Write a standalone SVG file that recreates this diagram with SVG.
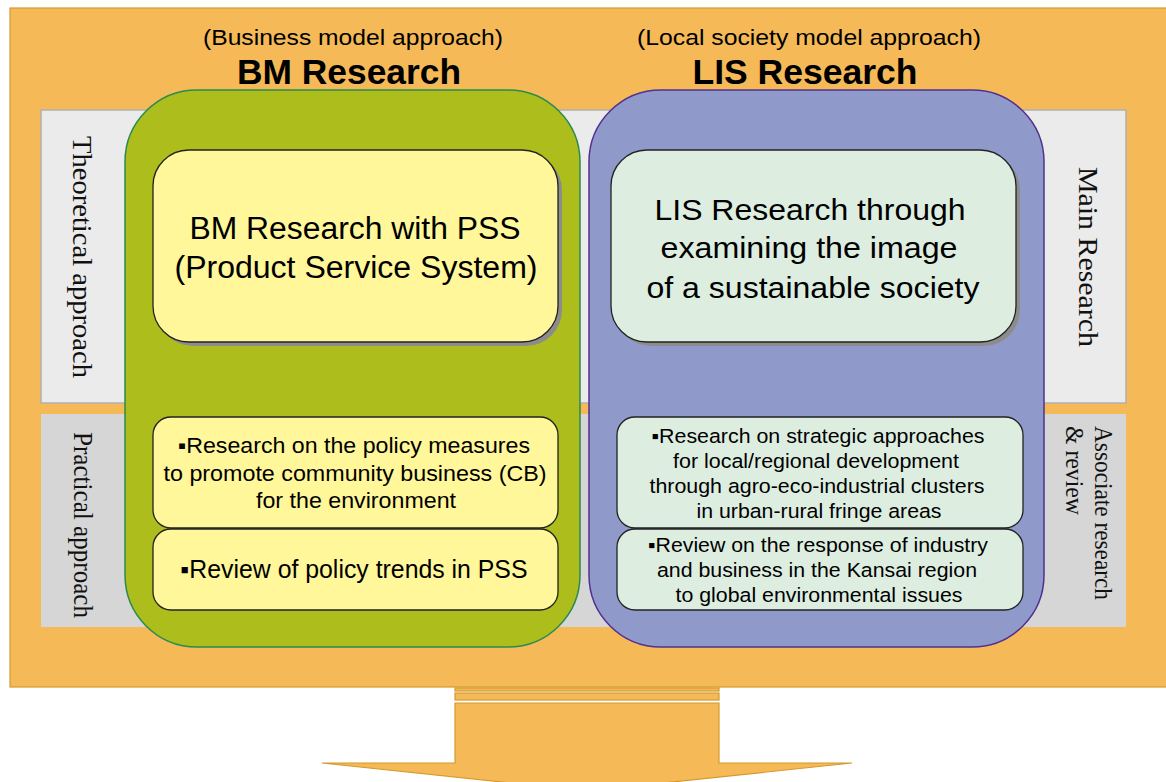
<svg xmlns="http://www.w3.org/2000/svg" width="1166" height="782" viewBox="0 0 1166 782">
<style>
.sans{font-family:"Liberation Sans",Arial,sans-serif;fill:#000;text-anchor:middle}
.serif{font-family:"Liberation Serif","Times New Roman",serif;fill:#111}
.orange{fill:#F5BA57;stroke:#D49A2C;stroke-width:1.2}
.yel{fill:#FFF799;stroke:#222;stroke-width:1.3}
.lgr{fill:#DDEEE0;stroke:#222;stroke-width:1.3}
.shadow{fill:#8C8C8C}
</style>
<rect width="1166" height="782" fill="#fff"/>
<g id="background">
<rect class="orange" x="10" y="8" width="1170" height="679"/>
<rect x="41" y="110" width="1085" height="293" fill="#EBEBEB" stroke="#B0B0B0" stroke-width="1.5"/>
<rect x="41" y="414" width="1085" height="213" fill="#D6D6D6"/>
<text class="serif" font-size="27" transform="translate(73,136) rotate(90)" textLength="242" lengthAdjust="spacingAndGlyphs">Theoretical approach</text>
<text class="serif" font-size="27" transform="translate(74,432) rotate(90)" textLength="186" lengthAdjust="spacingAndGlyphs">Practical approach</text>
<text class="serif" font-size="27" transform="translate(1079,167) rotate(90)" textLength="180" lengthAdjust="spacingAndGlyphs">Main  Research</text>
<text class="serif" font-size="25" transform="translate(1095,426) rotate(90)" textLength="174" lengthAdjust="spacingAndGlyphs">Associate research</text>
<text class="serif" font-size="25" transform="translate(1066,426) rotate(90)" textLength="89" lengthAdjust="spacingAndGlyphs">&amp; review</text>
</g>
<g id="bm-research">
<text class="sans" x="353" y="45" font-size="22" textLength="300" lengthAdjust="spacingAndGlyphs">(Business model approach)</text>
<text class="sans" x="349" y="84" font-size="35" font-weight="bold" textLength="224" lengthAdjust="spacingAndGlyphs">BM Research</text>
<rect x="125" y="90" width="455" height="557" rx="72" fill="#ADBD1B" stroke="#2A8A50" stroke-width="1.5"/>
</g>
<g id="lis-research">
<text class="sans" x="809" y="45" font-size="22" textLength="344" lengthAdjust="spacingAndGlyphs">(Local society model approach)</text>
<text class="sans" x="805" y="84" font-size="35" font-weight="bold" textLength="225" lengthAdjust="spacingAndGlyphs">LIS Research</text>
<rect x="589" y="90" width="455" height="557" rx="72" fill="#8F9ACB" stroke="#52308F" stroke-width="1.5"/>
</g>
<g id="bm-pss">
<rect class="shadow" x="157" y="154" width="405" height="192" rx="36"/>
<rect class="yel" x="153" y="150" width="405" height="192" rx="36"/>
<text class="sans" x="355" y="239" font-size="31" textLength="331" lengthAdjust="spacingAndGlyphs">BM Research with PSS</text>
<text class="sans" x="356" y="278" font-size="31" textLength="363" lengthAdjust="spacingAndGlyphs">(Product Service System)</text>
</g>
<g id="lis-sustainable">
<rect class="shadow" x="615" y="154" width="405" height="192" rx="36"/>
<rect class="lgr" x="611" y="150" width="405" height="192" rx="36"/>
<text class="sans" x="810" y="220" font-size="30" textLength="311" lengthAdjust="spacingAndGlyphs">LIS Research through</text>
<text class="sans" x="809" y="258" font-size="30" textLength="297" lengthAdjust="spacingAndGlyphs">examining the image</text>
<text class="sans" x="813" y="298" font-size="30" textLength="333" lengthAdjust="spacingAndGlyphs">of a sustainable society</text>
</g>
<g id="bm-cb">
<rect class="yel" x="153" y="417" width="405" height="111" rx="18"/>
<text class="sans" x="354" y="453" font-size="22" textLength="352" lengthAdjust="spacingAndGlyphs">▪Research on the policy measures</text>
<text class="sans" x="355" y="481" font-size="22" textLength="383" lengthAdjust="spacingAndGlyphs">to promote community business (CB)</text>
<text class="sans" x="356" y="508" font-size="22" textLength="200" lengthAdjust="spacingAndGlyphs">for the environment</text>
</g>
<g id="bm-review">
<rect class="yel" x="153" y="529" width="405" height="81" rx="18"/>
<text class="sans" x="354" y="578" font-size="25" textLength="347" lengthAdjust="spacingAndGlyphs">▪Review of policy trends in PSS</text>
</g>
<g id="lis-strategic">
<rect class="lgr" x="617" y="417" width="406" height="111" rx="18"/>
<text class="sans" x="818" y="443" font-size="20.5" textLength="333" lengthAdjust="spacingAndGlyphs">▪Research on strategic approaches</text>
<text class="sans" x="816" y="468" font-size="20.5" textLength="286" lengthAdjust="spacingAndGlyphs">for local/regional development</text>
<text class="sans" x="817" y="493" font-size="20.5" textLength="335" lengthAdjust="spacingAndGlyphs">through agro-eco-industrial clusters</text>
<text class="sans" x="819" y="518" font-size="20.5" textLength="245" lengthAdjust="spacingAndGlyphs">in urban-rural fringe areas</text>
</g>
<g id="lis-kansai">
<rect class="lgr" x="617" y="529" width="406" height="81" rx="18"/>
<text class="sans" x="818" y="552" font-size="20.5" textLength="340" lengthAdjust="spacingAndGlyphs">▪Review on the response of industry</text>
<text class="sans" x="817" y="577" font-size="20.5" textLength="320" lengthAdjust="spacingAndGlyphs">and business in the Kansai region</text>
<text class="sans" x="819" y="602" font-size="20.5" textLength="287" lengthAdjust="spacingAndGlyphs">to global environmental issues</text>
</g>
<g id="connectors">
<rect class="orange" x="455" y="688" width="264" height="3"/>
<rect class="orange" x="455" y="693" width="264" height="7"/>
<path class="orange" d="M455,703 H719 V763 H852 L587,791 L322,763 H455 Z"/>
</g>
</svg>
